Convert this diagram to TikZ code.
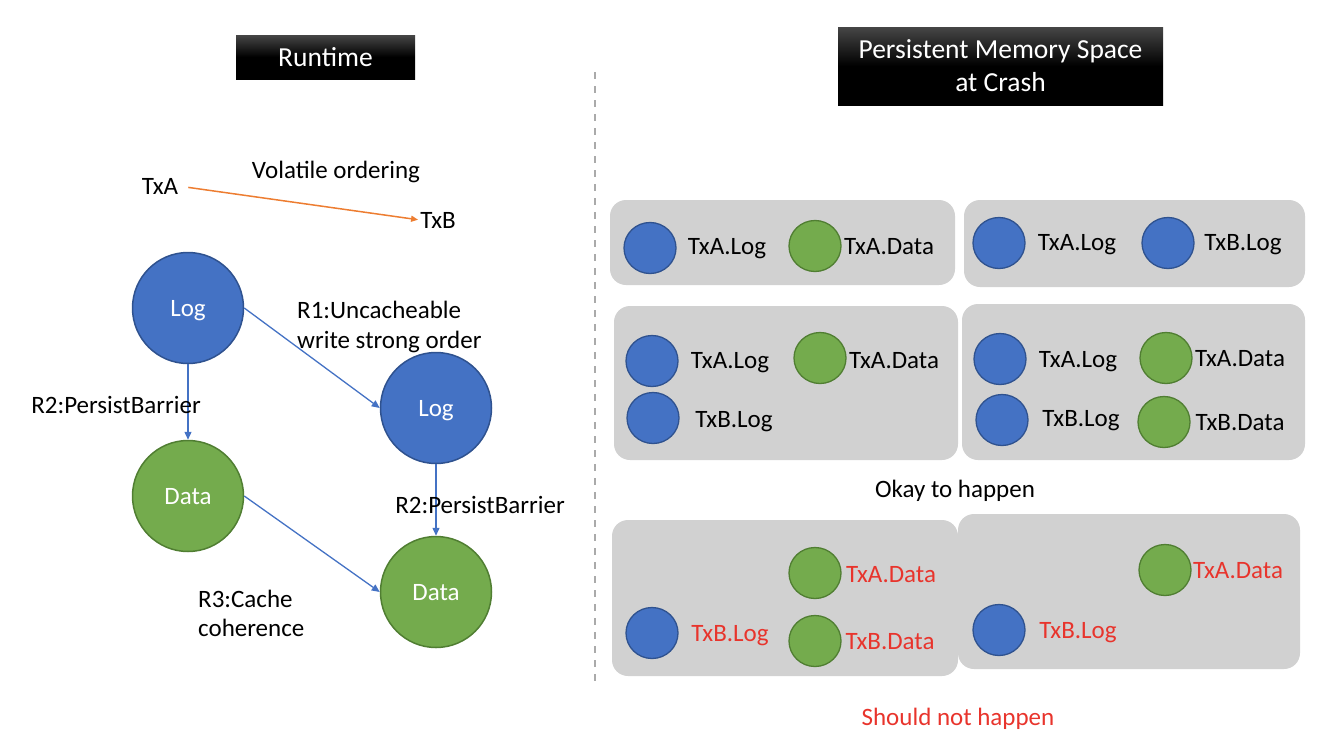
\documentclass[tikz,border=0pt]{standalone}
\usepackage{fontspec}
\setmainfont{Carlito}
\usetikzlibrary{shapes.geometric,arrows.meta}
\definecolor{logblue}{RGB}{68,114,196}
\definecolor{logborder}{RGB}{47,82,143}
\definecolor{datagreen}{RGB}{116,171,77}
\definecolor{databorder}{RGB}{80,126,50}
\definecolor{panelgray}{RGB}{209,209,209}
\definecolor{badred}{RGB}{232,52,44}
\definecolor{orangeline}{RGB}{237,125,49}
\definecolor{dashgray}{RGB}{170,170,170}
\tikzset{
  txt/.style={font=\fontsize{25}{30}\selectfont, inner sep=0, text height=20, text depth=4},
  redtxt/.style={txt, text=badred},
  bignode/.style={circle, minimum size=111, inner sep=0, line width=1.5, font=\fontsize{25}{30}\selectfont, text=white, text height=20, text depth=4},
  logc/.style={bignode, fill=logblue, draw=logborder},
  datac/.style={bignode, fill=datagreen, draw=databorder},
  blob/.style={ellipse, minimum width=52, minimum height=51, inner sep=0, line width=1.3},
  bl/.style={blob, fill=logblue, draw=logborder},
  gr/.style={blob, fill=datagreen, draw=databorder},
  panel/.style={fill=panelgray, rounded corners=16},
  flow/.style={draw=logblue, line width=1.3, -{Triangle[length=8,width=7]}},
  titlebox/.style={top color={rgb,255:red,70;green,70;blue,70}, bottom color=black, middle color=black, text=white, inner sep=0, font=\fontsize{27.5}{33}\selectfont, align=center}
}
\begin{document}
\begin{tikzpicture}[x=1pt,y=-1pt]
\useasboundingbox (0,0) rectangle (1324,742);
% titles
\node[titlebox, minimum width=179, minimum height=44] (rt) at (325.5,57) {Runtime};
\node[titlebox, minimum width=325, minimum height=78] (pm) at (1000.5,66) {Persistent Memory Space\\at Crash};
% divider
\coordinate (d1) at (595,72);
\coordinate (d2) at (595,686);
\draw[dashgray, line width=1.5, dash pattern=on 7 off 7] (d1) -- (d2);
% left side
\node[txt] (txa) at (160,186) {TxA};
\node[txt] (txb) at (438,220) {TxB};
\node[txt] (vol) at (336,170) {Volatile ordering};
\draw[orangeline, line width=1.5, -{Triangle[length=7,width=6]}, shorten <=10, shorten >=2] (txa.east) -- (txb.west);

\node[logc] (log1) at (188,308) {Log};
\node[logc] (log2) at (436,408) {Log};
\node[datac] (data1) at (188,496) {Data};
\node[datac] (data2) at (436,592) {Data};
\draw[flow] (log1) -- (data1);
\draw[flow] (log1.east) -- (log2.west);
\draw[flow] (log2) -- (data2);
\draw[flow] (data1.east) -- (data2.west);
\node[txt] (r2a) at (116,405) {R2:PersistBarrier};
\node[txt, anchor=west] (r1a) at (297,310) {R1:Uncacheable};
\node[txt, anchor=west] (r1b) at (297,340) {write strong order};
\node[txt] (r2b) at (480,505) {R2:PersistBarrier};
\node[txt, anchor=west] (r3a) at (198,599) {R3:Cache};
\node[txt, anchor=west] (r3b) at (198,628) {coherence};

% right panels
\fill[panel] (610,200) rectangle (955,285);
\fill[panel] (964,200) rectangle (1305,287);
\fill[panel] (614,306) rectangle (958,460);
\fill[panel] (962,304) rectangle (1305,460);
\fill[panel] (612,520) rectangle (958,676);
\fill[panel] (958,514) rectangle (1300,669);

% panel 1
\node[bl] (a1) at (650,248) {};
\node[txt] (a1t) at (727,246) {TxA.Log};
\node[gr] (a2) at (815,246) {};
\node[txt] (a2t) at (889,246) {TxA.Data};
% panel 2
\node[bl] (b1) at (999,243) {};
\node[txt] (b1t) at (1077,242) {TxA.Log};
\node[bl] (b2) at (1168,243) {};
\node[txt] (b2t) at (1243,242) {TxB.Log};
% panel 3
\node[bl] (c1) at (652,361) {};
\node[txt] (c1t) at (730,360) {TxA.Log};
\node[gr] (c2) at (820,358) {};
\node[txt] (c2t) at (894,360) {TxA.Data};
\node[bl] (c3) at (653,418) {};
\node[txt] (c3t) at (734,419) {TxB.Log};
% panel 4
\node[bl] (e1) at (1000,359) {};
\node[txt] (e1t) at (1078,359) {TxA.Log};
\node[gr] (e2) at (1166,358) {};
\node[txt] (e2t) at (1240,358) {TxA.Data};
\node[bl] (e3) at (1002,420) {};
\node[txt] (e3t) at (1081,418) {TxB.Log};
\node[gr] (e4) at (1164,422) {};
\node[txt] (e4t) at (1240,422) {TxB.Data};

\node[txt] (ok) at (955,489) {Okay to happen};

% panel 5
\node[gr] (f1) at (815,573) {};
\node[redtxt] (f1t) at (891,574) {TxA.Data};
\node[gr] (f2) at (815,641) {};
\node[redtxt] (f2t) at (890,641) {TxB.Data};
\node[bl] (f3) at (652,633) {};
\node[redtxt] (f3t) at (730,633) {TxB.Log};
% panel 6
\node[gr] (g1) at (1165,570) {};
\node[redtxt] (g1t) at (1238,570) {TxA.Data};
\node[bl] (g2) at (999,630) {};
\node[redtxt] (g2t) at (1078,630) {TxB.Log};

\node[redtxt] (no) at (958,717) {Should not happen};
\end{tikzpicture}
\end{document}
